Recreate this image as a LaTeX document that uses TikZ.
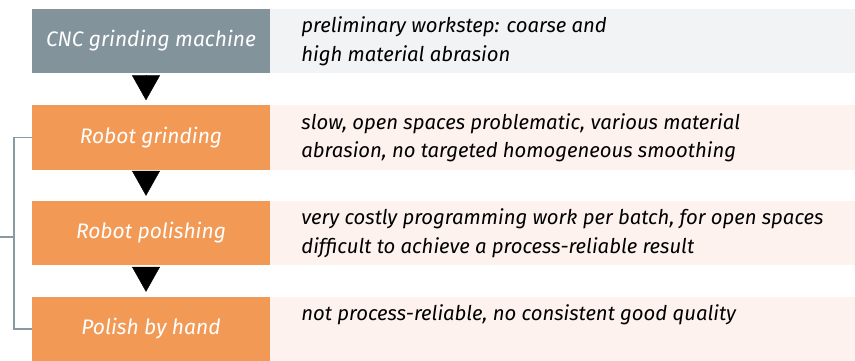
\documentclass[tikz,border=0pt]{standalone}
\usepackage{fontspec}
\setmainfont{Fira Sans}
\usepackage{tikz}
\usetikzlibrary{positioning}
\usetikzlibrary{arrows.meta}

\definecolor{cncgray}{HTML}{83939B}
\definecolor{cncbg}{HTML}{F2F3F5}
\definecolor{robotorange}{HTML}{F29A55}
\definecolor{robotbg}{HTML}{FEF2EE}
\definecolor{bracketgray}{HTML}{8A9AA3}

\begin{document}
\begin{tikzpicture}[x=1pt, y=-1pt,
    stepbox/.style={minimum width=238pt, minimum height=64pt, inner sep=0pt, text=white, font=\itshape\fontsize{21}{28}\selectfont},
    notebox/.style={minimum width=585pt, minimum height=64pt, inner sep=0pt, anchor=west},
    note/.style={anchor=north west, inner sep=0pt, align=left, font=\itshape\fontsize{20.3}{28.5}\selectfont},
    flow/.style={-{Triangle[width=28pt,length=25pt]}, shorten <=2pt, shorten >=5pt},
    bracket/.style={draw=bracketgray, line width=1.5pt}]
              \useasboundingbox (0,0) rectangle (855,361);
              % Nodos
              \node[stepbox, fill=cncgray] (cnc) at (151,41) {CNC grinding machine};
              \node[stepbox, fill=robotorange] (grind) at (151,137.5) {Robot grinding};
              \node[stepbox, fill=robotorange] (polish) at (151,233) {Robot polishing};
              \node[stepbox, fill=robotorange] (hand) at (151,329) {Polish by hand};
              \node[notebox, fill=cncbg] (cncnote) at (cnc.east) {};
              \node[notebox, fill=robotbg] (grindnote) at (grind.east) {};
              \node[notebox, fill=robotbg] (polishnote) at (polish.east) {};
              \node[notebox, fill=robotbg] (handnote) at (hand.east) {};
              \node[note] (cnctext) at ([xshift=31pt, yshift=-8pt]cncnote.north west) {preliminary workstep: coarse and\\high material abrasion};
              \node[note] (grindtext) at ([xshift=31pt, yshift=-8pt]grindnote.north west) {slow, open spaces problematic, various material\\abrasion, no targeted homogeneous smoothing};
              \node[note] (polishtext) at ([xshift=31pt, yshift=-8pt]polishnote.north west) {very costly programming work per batch, for open spaces\\difficult to achieve a process-reliable result};
              \node[note] (handtext) at ([xshift=31pt, yshift=-8pt]handnote.north west) {not process-reliable, no consistent good quality};
              \coordinate (robots) at (0,237);

              % Aristas
              \draw[flow] ([xshift=-5pt]cnc.south) -- ([xshift=-5pt]grind.north);
              \draw[flow] ([xshift=-5pt]grind.south) -- ([xshift=-5pt]polish.north);
              \draw[flow] ([xshift=-5pt]polish.south) -- ([xshift=-5pt]hand.north);
              \draw[bracket] (grind.west) -- ++(-18,0) |- (hand.west);
              \draw[bracket] (robots) -- ++(14,0);
            \end{tikzpicture}
\end{document}
